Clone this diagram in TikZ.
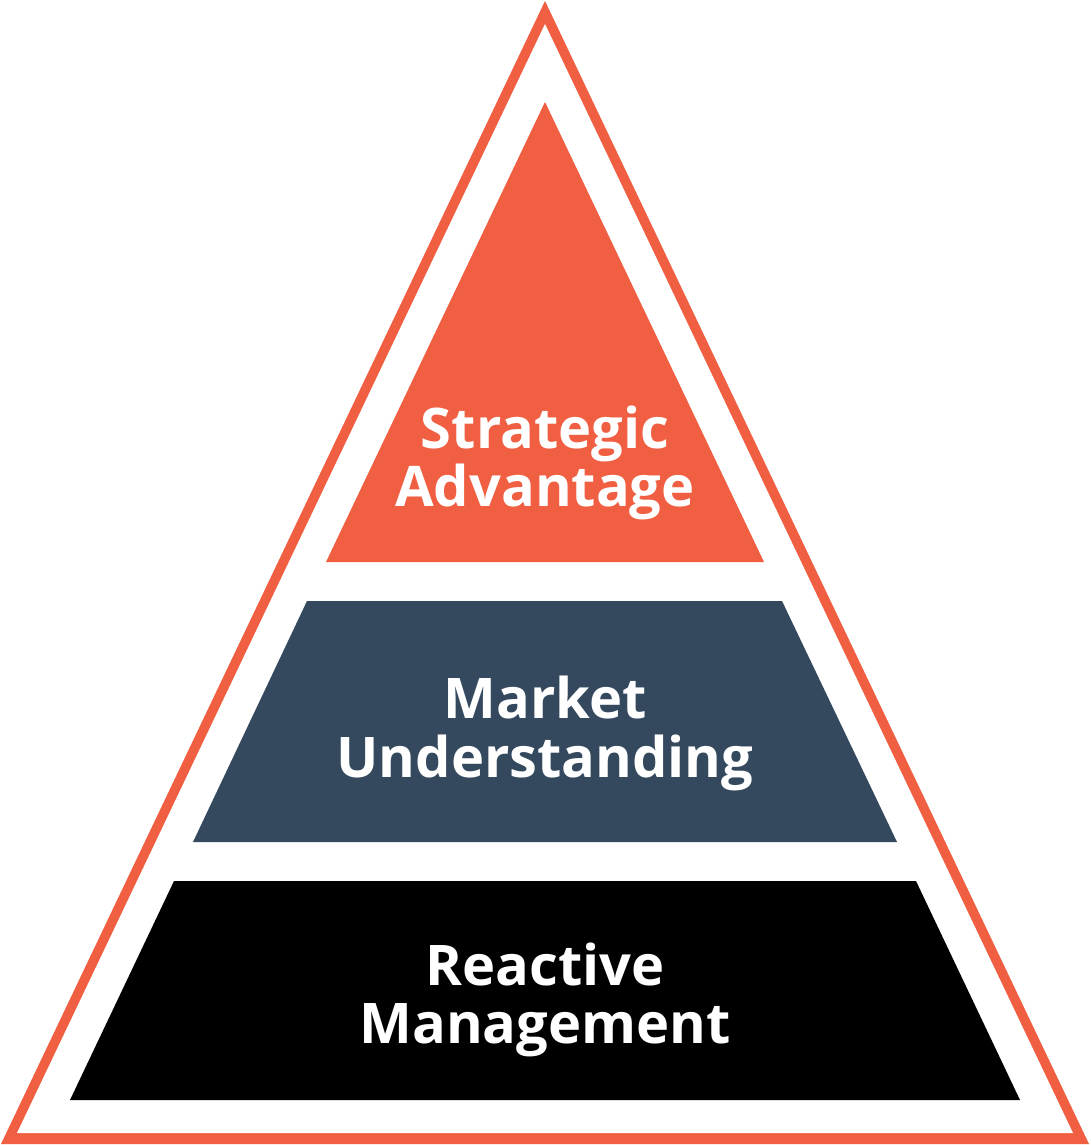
\documentclass[tikz,border=0pt]{standalone}
\usepackage{fontspec}
\setmainfont{Open Sans}
\definecolor{pyorange}{HTML}{F15F43}
\definecolor{pyblue}{HTML}{34495E}
\begin{document}
\begin{tikzpicture}[x=1pt,y=-1pt,
  lbl/.style={text=white,font=\fontsize{56}{59}\selectfont\bfseries,anchor=base,inner sep=0pt}]
\useasboundingbox (0,0) rectangle (1090,1145);
\fill[white] (0,0) rectangle (1090,1145);
% outer frame
\fill[pyorange] (545,1) -- (1,1144) -- (1089,1144) -- cycle;
\fill[white] (545,24) -- (17,1133) -- (1073,1133) -- cycle;
% layers
\fill[pyorange] (545,102) -- (764,562) -- (326,562) -- cycle;
\fill[pyblue] (307,601) -- (782,601) -- (897,842) -- (193,842) -- cycle;
\fill[black] (174,881) -- (916,881) -- (1020,1100) -- (70,1100) -- cycle;
% labels
\node[lbl] (s1) at (545,448) {Strategic};
\node[lbl] (s2) at (545,506) {Advantage};
\node[lbl] (m1) at (545,718) {Market};
\node[lbl] (m2) at (545,777) {Understanding};
\node[lbl] (r1) at (545,985) {Reactive};
\node[lbl] (r2) at (545,1043) {Management};
\end{tikzpicture}
\end{document}
